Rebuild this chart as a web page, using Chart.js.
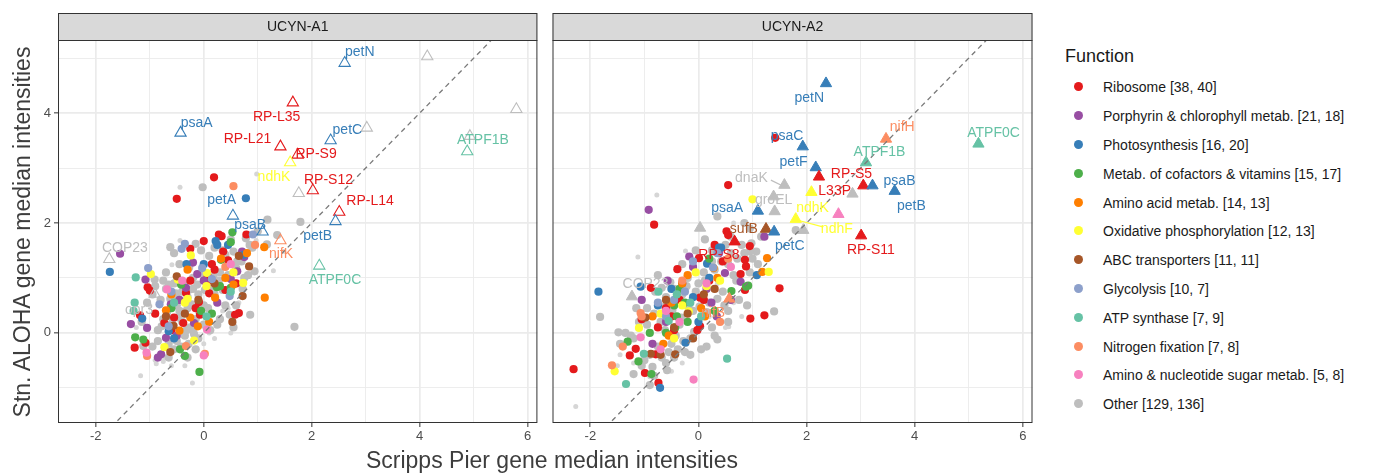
<!DOCTYPE html>
<html>
<head>
<meta charset="utf-8">
<script src="https://cdn.jsdelivr.net/npm/chart.js@4.4.0/dist/chart.umd.min.js"></script>
<style>
    body { margin: 0; background: #fff; width: 1374px; height: 473px; overflow: hidden; position: relative;
           font-family: "Liberation Sans", Arial, Helvetica, sans-serif; }
    canvas { position: absolute; top: 0; }
    #xTitle { position: absolute; left: 252px; width: 600px; top: 446px; height: 28px; line-height: 28px;
              text-align: center; font-size: 23px; color: #3d3d3d; }
    #yTitle { position: absolute; left: -178px; top: 218px; width: 400px; height: 28px; line-height: 28px;
              text-align: center; font-size: 23px; color: #3d3d3d; transform: rotate(-90deg); }
    #legendTitle { position: absolute; left: 1065px; top: 45px; font-size: 18px; color: #1a1a1a; line-height: 22px; }
    .legend-item { position: absolute; left: 1070px; height: 20px; line-height: 20px; font-size: 14px; color: #1a1a1a; white-space: nowrap; }
    .legend-item span.dot { position: absolute; left: 4px; top: 5px; width: 9px; height: 9px; border-radius: 50%; }
    .legend-item span.txt { position: absolute; left: 33px; top: 0; }
</style>
</head>
<body>
<canvas id="panelA1" width="545" height="473" style="left:0"></canvas>
<canvas id="panelA2" width="495" height="473" style="left:545px"></canvas>
<div id="xTitle">Scripps Pier gene median intensities</div>
<div id="yTitle">Stn. ALOHA gene median intensities</div>
<div id="legendTitle">Function</div>
<div id="legend"></div>
<script>
const functionNames = ['Ribosome', 'Porphyrin & chlorophyll metab.', 'Photosynthesis', 'Metab. of cofactors & vitamins',
    'Amino acid metab.', 'Oxidative phosphorylation', 'ABC transporters', 'Glycolysis', 'ATP synthase',
    'Nitrogen fixation', 'Amino & nucleotide sugar metab.', 'Other'];
const countsA1 = [38, 21, 16, 15, 14, 12, 11, 10, 7, 7, 5, 129];
const countsA2 = [40, 18, 20, 17, 13, 13, 11, 7, 9, 8, 8, 136];
const functionColors = ['#E41A1C', '#984EA3', '#377EB8', '#4DAF4A', '#FF7F00', '#FFFF33', '#A65628', '#8DA0CB',
    '#66C2A5', '#FC8D62', '#F781BF', '#BEBEBE'];

const xMin = -2.7, xMax = 6.18, yMin = -1.64, yMax = 5.33;
const xGridValues = [-2, -1, 0, 1, 2, 3, 4, 5, 6];
const yGridValues = [-1, 0, 1, 2, 3, 4, 5];
const diagonal = [-3, 7];

// ---- UCYN-A1 ----
const a1Ribosome = [[0.19,2.83],[-0.50,2.44],[0.0,1.67],[0.33,1.76],[-0.25,1.53],[0.07,1.01],[0.28,1.79],[0.79,1.79],
    [0.36,1.48],[-1.04,0.83],[-1.0,0.77],[-1.18,0.32],[-1.28,-0.27],[-1.08,-0.18],[-0.73,0.18],[-0.38,0.18],[-0.07,0.33],
    [-0.09,0.56],[0.09,1.0],[0.06,0.93],[0.65,0.36],[0.58,0.33],[-0.33,0.73],[0.15,1.25],[0.2,1.15],[-0.55,0.28],
    [-0.9,0.35],[0.45,1.32],[0.6,0.9],[-0.15,0.45],[0.4,0.78],[-0.6,0.05],[0.1,0.72],[-0.25,0.95]];
const a1Porphyrin = [[-1.55,1.44],[-0.12,1.07],[-1.08,0.97],[0.71,1.48],[0.75,1.38],[-1.35,0.16],[-1.05,0.09],
    [-0.79,-0.39],[-0.70,-0.09],[-0.61,0.52],[-0.18,0.18],[-0.33,0.82],[0.0,0.95],[0.5,0.98],[-0.45,0.6],[0.25,0.55],
    [-0.85,-0.45],[-0.2,1.28],[0.62,1.12],[-0.5,-0.05]];
const a1Photo = [[0.22,1.67],[0.78,2.45],[-1.74,1.11],[-0.32,1.25],[-1.14,0.26],[-0.65,0.03],[0.74,1.42],[0.0,1.25],
    [-0.55,-0.1],[0.45,1.6],[0.25,1.6]];
const a1Cofactor = [[0.53,1.83],[0.32,1.33],[-1.27,-0.08],[-1.12,-0.12],[-0.44,-0.30],[-0.35,-0.42],[-0.08,-0.71],
    [0.24,0.83],[-0.42,0.88],[0.5,0.82],[0.3,0.85],[0.5,1.65],[-0.05,0.4],[-0.6,0.45],[0.15,0.35]];
const a1AminoAcid = [[0.32,1.35],[1.12,1.56],[-0.70,0.41],[-0.45,0.04],[-0.25,0.28],[-0.11,0.12],[0.21,0.64],[1.13,0.64],
    [0.4,1.0],[0.55,0.88],[-0.6,0.7],[0.8,1.45],[0.1,0.2],[-0.3,1.15]];
const a1OxPhos = [[-0.24,1.41],[0.06,1.09],[-0.98,1.07],[-0.73,-0.26],[-0.18,-0.14],[-0.30,0.62],[-0.48,0.97],
    [0.73,0.91],[0.05,0.85],[-0.35,0.55],[0.55,1.1]];
const a1ABC = [[0.84,1.21],[-0.5,1.03],[-0.56,0.13],[-0.62,-0.35],[0.72,0.67],[0.53,0.20],[-0.35,0.35],[0.2,0.9],
    [-0.1,0.6],[0.65,1.4],[-0.7,0.3]];
const a1Glycolysis = [[-0.35,1.62],[-0.41,1.53],[-0.03,1.18],[-1.03,1.18],[0.91,1.79],[-0.82,0.52],[-0.65,0.12],
    [0.48,0.67],[-0.6,0.75],[0.15,0.98]];
const a1ATP = [[-1.26,1.01],[-1.28,0.55],[-1.3,0.4],[0.5,0.75],[-0.55,0.55],[0.05,0.3]];
const a1Nitrogen = [[0.55,2.67],[-0.33,-0.24],[0.02,-0.38],[-1.05,-0.42],[0.4,1.2],[0.95,1.6]];
const a1Sugar = [[0.50,1.25],[-1.06,-0.36],[0.0,-0.41],[0.06,0.06],[-0.68,0.79],[-0.4,0.95]];
const a1Other = [[-0.02,2.65],[-0.62,1.56],[-0.55,1.45],[-0.27,1.19],[-0.91,0.97],[1.18,2.06],[1.36,1.78],[1.79,2.02],
    [1.17,1.61],[0.55,1.48],[0.94,1.12],[0.6,1.18],[1.68,0.11],[0.86,0.33],[0.48,0.33],[-1.12,-0.24],[-0.2,0.05],
    [-0.7,0.8],[-0.55,0.9],[-0.4,0.75],[-0.3,0.65],[-0.2,0.8],[-0.1,0.7],[0.1,0.8],[-0.5,0.5],[-0.45,0.4],[-0.3,0.45],
    [-0.15,0.25],[-0.4,0.2],[-0.25,0.1],[-0.8,0.6],[-0.75,0.25],[-0.6,0.15],[-0.5,-0.15],[-0.35,-0.05],[0.0,0.5],
    [0.2,0.7],[0.3,1.1],[0.7,1.3],[0.85,1.6],[0.1,1.4],[-0.2,1.0],[0.4,0.5],[0.25,0.15],[-0.65,-0.2],[-0.85,0.05],
    [-0.15,-0.3],[0.6,0.5],[0.35,1.5],[-0.05,1.5],[1.0,1.85],[0.55,0.1],[-0.95,0.7],[0.75,1.0],[-0.1,-0.1],
    [-0.75,0.95],[-0.65,0.88],[-0.52,0.72],[-0.38,0.92],[-0.28,0.78],[-0.12,0.88],[0.02,0.78],[0.18,1.02],[0.28,0.95],
    [-0.62,0.62],[-0.48,0.62],[-0.36,0.38],[-0.22,0.52],[-0.08,0.38],[0.08,0.45],[-0.68,0.38],[-0.58,0.25],[-0.47,0.28],
    [-0.32,0.05],[-0.18,-0.02],[-0.78,0.12],[-0.42,-0.25],[-0.55,-0.3],[-0.28,-0.2],[0.0,0.15],[0.12,0.05],[-0.9,0.85],
    [-1.05,0.55],[-1.15,0.2],[-0.85,-0.15],[0.35,0.78],[0.45,1.05],[0.62,1.3],[0.4,1.42],[0.2,1.55],[-0.15,1.62],
    [-0.45,1.25],[-0.7,1.1],[0.78,1.72],[0.9,1.55],[0.3,0.25],[0.72,0.8],[0.82,1.05],[-0.95,-0.25],[-0.65,-0.45],
    [-0.3,-0.45],[0.5,1.7],[-0.05,1.08]];
const a1Faint = [[-0.44,2.65],[0.98,2.89],[-0.44,1.68],[-0.59,1.24],[0.97,1.68],[1.48,1.48],[1.29,1.13],[-0.9,-0.5],
    [-0.88,-0.56],[-0.75,-0.52],[-0.73,-0.45],[-1.17,-0.78],[-0.21,-0.91],[-1.25,0.1],[0.65,0.55],[0.35,0.4],[0.45,0.45],
    [-0.6,-0.6],[0.2,-0.1],[0.0,-0.2],[-1.0,0.5],[0.1,0.0],[-0.35,-0.6],[0.5,0.0],[-1.03,1.2]];
// marked genes: x, y, function index
const a1Marked = [[2.61,4.91,2],[4.14,5.03,11],[5.79,4.07,11],[1.65,4.19,0],[-0.43,3.64,2],[2.35,3.50,2],[3.02,3.73,11],
    [4.93,3.58,11],[4.88,3.30,8],[1.42,3.39,0],[1.74,3.24,0],[1.60,3.10,5],[2.02,2.59,0],[1.76,2.54,11],[2.51,2.20,0],
    [0.54,2.13,2],[2.44,2.03,2],[1.09,1.84,2],[1.42,1.68,9],[-1.75,1.34,11],[2.14,1.22,8],[-0.91,0.71,11]];
// label text, x, y, function index
const a1Labels = [['petN',2.89,5.10,2],['RP-L35',1.35,3.92,0],['psaA',-0.13,3.82,2],['petC',2.66,3.69,2],
    ['ATPF1B',5.17,3.50,8],['RP-L21',0.81,3.52,0],['RP-S9',2.08,3.25,0],['ndhK',1.30,2.83,5],['RP-S12',2.31,2.78,0],
    ['RP-L14',3.08,2.39,0],['petA',0.33,2.41,2],['psaB',0.86,1.96,2],['petB',2.11,1.76,2],['nifK',1.43,1.44,9],
    ['COP23',-1.46,1.54,11],['ATPF0C',2.43,0.96,8],['opr3',-1.2,0.42,11]];

// ---- UCYN-A2 ----
const a2Ribosome = [[1.42,3.55],[0.55,2.69],[-0.82,1.97],[0.52,1.85],[0.55,1.78],[0.01,1.36],[-0.39,1.16],[-0.88,0.82],
    [0.88,1.21],[0.86,1.33],[0.78,1.07],[1.50,0.81],[0.96,0.26],[1.22,0.32],[0.03,0.12],[-0.02,0.05],[0.03,0.64],
    [0.08,0.64],[-2.31,-0.66],[-1.16,-0.29],[-1.27,-0.41],[-0.79,-0.39],[-0.99,-0.73],[-0.74,-0.91],[0.95,1.58],
    [0.86,0.78],[-0.75,0.1],[-0.45,0.05],[-0.35,0.6],[0.2,0.95],[0.45,1.3],[-0.6,0.45],[-1.05,0.25],[0.3,1.6],
    [0.1,0.6],[-0.5,0.3]];
const a2Porphyrin = [[-0.92,2.24],[-0.17,1.39],[0.49,1.09],[-0.57,0.95],[1.22,1.75],[0.78,0.93],[0.34,0.30],[0.24,0.55],
    [-0.3,0.9],[-0.1,1.2],[0.6,0.6],[-0.6,0.2],[0.15,0.8],[-0.85,-0.2],[0.38,1.45],[-1.05,0.6]];
const a2Photo = [[0.38,1.55],[0.42,1.55],[0.16,1.26],[-1.85,0.75],[-1.07,0.84],[1.08,1.05],[-0.24,-0.18],[-0.71,-1.0],
    [-0.1,0.65],[-0.5,0.8],[0.2,1.0],[-0.75,0.5],[0.0,0.2]];
const a2Cofactor = [[0.92,0.86],[0.61,0.76],[0.88,0.84],[-1.31,-0.16],[-1.11,-0.52],[-0.87,-0.75],[-0.43,0.1],
    [-0.45,0.5],[-0.25,0.55],[-0.2,0.2],[-0.4,0.3],[-0.9,0.0],[0.2,1.35],[-0.35,0.8],[0.3,0.4],[-0.6,0.0]];
const a2AminoAcid = [[0.28,1.18],[1.27,1.36],[1.18,1.11],[0.12,0.30],[-0.5,0.55],[-0.65,-0.2],[-0.3,0.9],[0.05,0.45],
    [-0.2,1.05],[0.35,1.0],[-0.85,0.3],[-0.55,-0.05]];
const a2OxPhos = [[1.0,2.43],[1.30,1.11],[-1.10,0.09],[-1.55,-0.70],[-0.18,0.39],[-0.05,1.1],[0.4,0.95],[-0.3,0.5],
    [-0.7,0.35],[0.15,0.85],[-0.45,-0.1]];
const a2ABC = [[-0.98,0.28],[-0.88,-0.38],[-0.43,-0.39],[-0.6,0.6],[-0.2,0.35],[-0.45,0.1],[0.1,0.7],[-0.7,-0.4],
    [-0.1,-0.1],[0.3,0.8]];
const a2Glycolysis = [[-0.6,0.3],[-0.45,0.6],[-0.25,0.75],[0.27,1.19],[-0.1,1.3],[0.35,1.45],[-0.75,0.55]];
const a2ATP = [[-0.74,0.75],[-1.01,-0.38],[-1.34,-0.93],[0.53,-0.47],[-0.55,0.22],[-0.4,0.7],[-0.15,0.55],[0.05,0.3]];
const a2Nitrogen = [[-1.05,0.30],[-1.07,0.36],[-1.40,-0.25],[-1.60,-0.59],[-0.3,0.95],[0.55,1.35],[0.4,0.2]];
const a2Sugar = [[-1.07,-0.08],[-0.09,-0.85],[-0.6,0.4],[-0.7,-0.3],[0.15,0.9],[-0.35,0.2],[0.6,1.2]];
const a2Other = [[0.35,2.12],[-1.82,0.29],[1.40,0.39],[1.16,1.75],[0.98,1.63],[1.07,1.48],[0.95,1.48],[1.8,1.87],
    [-0.8,0.75],[-0.6,0.65],[-0.45,0.8],[-0.3,0.7],[-0.2,1.0],[0.0,0.9],[0.1,1.1],[-0.1,0.4],[-0.55,0.35],[-0.7,0.2],
    [-0.35,0.15],[-0.15,-0.1],[-0.5,-0.2],[-0.75,-0.25],[-0.9,-0.4],[-1.0,-0.5],[-0.6,-0.55],[-0.85,-0.62],[-1.2,-0.1],
    [-1.35,0.0],[-1.48,0.01],[0.25,0.1],[0.55,0.4],[0.7,0.95],[0.45,0.75],[0.2,0.55],[-0.25,-0.35],[0.15,-0.25],
    [-0.45,-0.45],[0.6,1.45],[0.8,1.6],[0.65,1.05],[0.25,1.3],[-0.05,1.5],[0.5,1.6],[1.0,1.35],[-0.95,0.15],[-1.15,0.45],
    [0.3,-0.05],[0.9,0.5],[-0.68,0.82],[-0.52,0.92],[-0.38,0.62],[-0.22,0.85],[-0.05,0.75],[0.12,0.95],[0.3,1.15],
    [0.42,1.3],[0.55,1.25],[0.72,1.35],[0.85,1.45],[-0.62,0.48],[-0.48,0.42],[-0.32,0.28],[-0.18,0.45],[0.02,0.48],
    [0.15,0.38],[0.35,0.62],[0.48,0.5],[-0.82,0.35],[-0.95,0.45],[-1.1,0.2],[-1.25,-0.05],[-0.62,0.05],[-0.42,-0.05],
    [-0.28,-0.15],[-0.08,0.02],[-0.55,-0.35],[-0.38,-0.3],[-0.68,-0.45],[-1.05,-0.6],[-0.82,-0.78],[-0.58,-0.68],
    [-0.15,-0.4],[0.05,-0.3],[0.35,-0.12],[0.55,0.2],[0.75,0.6],[0.95,1.1],[1.1,1.25],[0.25,1.5],[0.6,1.75],[0.12,1.7],
    [-0.3,1.25],[-0.75,1.05],[0.85,2.0],[0.95,1.9],[-1.45,-0.2],[-1.2,-0.75],[-0.9,-0.95]];
const a2Faint = [[-0.77,2.51],[0.65,2.0],[-1.12,1.38],[-0.24,1.49],[-2.27,-1.34],[0.56,0.11],[-1.5,-0.6],[-1.45,-0.4],
    [-1.2,-0.55],[-0.3,-0.55],[0.2,0.3],[0.5,0.1],[-0.9,-0.8],[-0.5,-0.7],[0.35,0.9],[0.8,0.3],[0.65,0.55]];
const a2Marked = [[2.36,4.54,2],[5.18,3.44,8],[3.47,3.53,9],[1.93,3.39,2],[3.10,3.10,8],[2.17,3.01,2],[2.23,2.84,0],
    [3.05,2.68,0],[3.22,2.68,2],[3.63,2.58,2],[2.85,2.53,11],[2.09,2.56,5],[1.59,2.69,11],[1.39,2.48,11],[1.41,2.21,11],
    [1.10,2.22,2],[2.59,2.16,10],[1.80,2.07,5],[0.03,1.91,11],[1.25,1.89,6],[1.40,1.84,2],[1.94,1.87,11],[3.01,1.77,0],
    [0.67,1.66,0],[-1.23,0.66,11],[0.57,0.62,9]];
const a2Labels = [['petN',2.05,4.27,2],['ATPF0C',5.46,3.64,8],['nifH',3.77,3.74,9],['psaC',1.64,3.58,2],
    ['ATPF1B',3.35,3.29,8],['petF',1.76,3.11,2],['RP-S5',2.83,2.89,0],['psaB',3.72,2.77,2],['petB',3.94,2.30,2],
    ['L33P',2.52,2.58,0],['dnaK',0.98,2.81,11],['groEL',1.39,2.41,11],['psaA',0.53,2.27,2],['ndhK',2.11,2.27,5],
    ['ndhF',2.56,1.89,5],['sufB',0.84,1.89,6],['RP-S11',3.19,1.50,0],['petC',1.69,1.57,2],['RP-S8',0.38,1.42,0],
    ['COP23',-0.98,0.89,11],['nifB',0.27,0.36,9]];
// leader segments: x1, y1, x2, y2, function index
const a2Leaders = [[1.34,2.78,1.57,2.67,11],[1.84,2.05,2.3,1.93,5]];

const a1Series = [a1Ribosome, a1Porphyrin, a1Photo, a1Cofactor, a1AminoAcid, a1OxPhos, a1ABC, a1Glycolysis, a1ATP,
    a1Nitrogen, a1Sugar, a1Other];
const a2Series = [a2Ribosome, a2Porphyrin, a2Photo, a2Cofactor, a2AminoAcid, a2OxPhos, a2ABC, a2Glycolysis, a2ATP,
    a2Nitrogen, a2Sugar, a2Other];

const fontFamily = '"Liberation Sans", Arial, Helvetica, sans-serif';
const toXY = arr => arr.map(p => ({ x: p[0], y: p[1] }));

// legend
const legendEl = document.getElementById('legend');
functionNames.forEach((name, i) => {
    const item = document.createElement('div');
    item.className = 'legend-item';
    item.style.top = (87.3 + i * 28.8 - 10) + 'px';
    const dot = document.createElement('span');
    dot.className = 'dot';
    dot.style.background = functionColors[i];
    const txt = document.createElement('span');
    txt.className = 'txt';
    txt.textContent = name + ' [' + countsA1[i] + ', ' + countsA2[i] + ']';
    item.appendChild(dot);
    item.appendChild(txt);
    legendEl.appendChild(item);
});

function panelDecor(stripText, labels, leaders) {
    return {
        id: 'panelDecor',
        afterDatasetsDraw(chart) {
            const { ctx, chartArea, scales } = chart;
            const xs = scales.x, ys = scales.y;
            ctx.save();
            ctx.beginPath();
            ctx.rect(chartArea.left, chartArea.top, chartArea.right - chartArea.left, chartArea.bottom - chartArea.top);
            ctx.clip();
            leaders.forEach(l => {
                ctx.beginPath();
                ctx.moveTo(xs.getPixelForValue(l[0]), ys.getPixelForValue(l[1]));
                ctx.lineTo(xs.getPixelForValue(l[2]), ys.getPixelForValue(l[3]));
                ctx.strokeStyle = functionColors[l[4]];
                ctx.lineWidth = 1.2;
                ctx.stroke();
            });
            ctx.font = '14px ' + fontFamily;
            ctx.textAlign = 'center';
            ctx.textBaseline = 'middle';
            labels.forEach(l => {
                ctx.fillStyle = functionColors[l[3]];
                ctx.fillText(l[0], xs.getPixelForValue(l[1]), ys.getPixelForValue(l[2]));
            });
            ctx.restore();
        },
        afterDraw(chart) {
            const { ctx, chartArea } = chart;
            const w = chartArea.right - chartArea.left;
            ctx.save();
            // facet strip
            ctx.fillStyle = '#d9d9d9';
            ctx.fillRect(chartArea.left, 13, w, chartArea.top - 13);
            ctx.strokeStyle = '#333333';
            ctx.lineWidth = 1;
            ctx.strokeRect(chartArea.left + 0.5, 13.5, w - 1, chartArea.top - 13);
            ctx.fillStyle = '#1a1a1a';
            ctx.font = '14px ' + fontFamily;
            ctx.textAlign = 'center';
            ctx.textBaseline = 'middle';
            ctx.fillText(stripText, chartArea.left + w / 2, (13 + chartArea.top) / 2 + 1);
            // panel border
            ctx.strokeRect(chartArea.left + 0.5, chartArea.top + 0.5, w - 1, chartArea.bottom - chartArea.top - 1);
            ctx.restore();
        }
    };
}

function isMajor(v) { return Math.abs(v % 2) < 1e-9; }

function buildChart(canvasId, series, faint, marked, openTriangles, stripText, labels, leaders, showY, yWidth, padRight) {
    const datasets = [];
    datasets.push({
        type: 'line',
        data: toXY(diagonal.map(v => [v, v])),
        borderColor: '#7a7a7a',
        borderDash: [5, 4],
        borderWidth: 1.3,
        pointRadius: 0,
        order: -1
    });
    datasets.push({
        data: toXY(marked),
        pointStyle: 'triangle',
        pointRadius: 6.5,
        pointBorderWidth: openTriangles ? 1.1 : 1,
        pointBorderColor: marked.map(m => functionColors[m[2]]),
        pointBackgroundColor: marked.map(m => openTriangles ? 'rgba(0,0,0,0)' : functionColors[m[2]]),
        order: 0
    });
    series.forEach((arr, i) => {
        datasets.push({
            data: toXY(arr),
            pointStyle: 'circle',
            pointRadius: 4.1,
            pointBorderWidth: 0,
            pointBackgroundColor: functionColors[i],
            order: i === 11 ? 30 : 12 - i
        });
    });
    datasets.push({
        data: toXY(faint),
        pointStyle: 'circle',
        pointRadius: 2.5,
        pointBorderWidth: 0,
        pointBackgroundColor: '#d6d6d6',
        order: 40
    });

    return new Chart(document.getElementById(canvasId).getContext('2d'), {
        type: 'scatter',
        data: { datasets: datasets },
        options: {
            responsive: false,
            animation: false,
            events: [],
            layout: { padding: { top: 40, right: padRight, left: 0, bottom: 0 } },
            plugins: { legend: { display: false }, tooltip: { enabled: false } },
            scales: {
                x: {
                    type: 'linear', min: xMin, max: xMax,
                    afterBuildTicks: s => { s.ticks = xGridValues.map(v => ({ value: v })); },
                    afterFit: s => { s.height = 50; },
                    border: { display: false },
                    grid: {
                        color: '#ebebeb',
                        lineWidth: c => (c.tick && isMajor(c.tick.value)) ? 1.7 : 0.9,
                        drawTicks: true,
                        tickLength: 4,
                        tickWidth: 1,
                        tickColor: c => (c.tick && isMajor(c.tick.value)) ? '#333333' : 'rgba(0,0,0,0)'
                    },
                    ticks: {
                        autoSkip: false, maxRotation: 0, padding: 2, color: '#4d4d4d',
                        font: { size: 13, family: fontFamily },
                        callback: v => isMajor(v) ? String(v) : ''
                    }
                },
                y: {
                    type: 'linear', min: yMin, max: yMax,
                    afterBuildTicks: s => { s.ticks = yGridValues.map(v => ({ value: v })); },
                    afterFit: s => { s.width = yWidth; },
                    border: { display: false },
                    grid: {
                        color: '#ebebeb',
                        lineWidth: c => (c.tick && isMajor(c.tick.value)) ? 1.7 : 0.9,
                        drawTicks: showY,
                        tickLength: 4,
                        tickWidth: 1,
                        tickColor: c => (c.tick && isMajor(c.tick.value)) ? '#333333' : 'rgba(0,0,0,0)'
                    },
                    ticks: {
                        display: showY, padding: 3, color: '#4d4d4d',
                        font: { size: 13, family: fontFamily },
                        callback: v => isMajor(v) ? String(v) : ''
                    }
                }
            }
        },
        plugins: [panelDecor(stripText, labels, leaders)]
    });
}

buildChart('panelA1', a1Series, a1Faint, a1Marked, true, 'UCYN-A1', a1Labels, [], true, 58, 2);
buildChart('panelA2', a2Series, a2Faint, a2Marked, false, 'UCYN-A2', a2Labels, a2Leaders, false, 7, 3);
</script>
</body>
</html>
